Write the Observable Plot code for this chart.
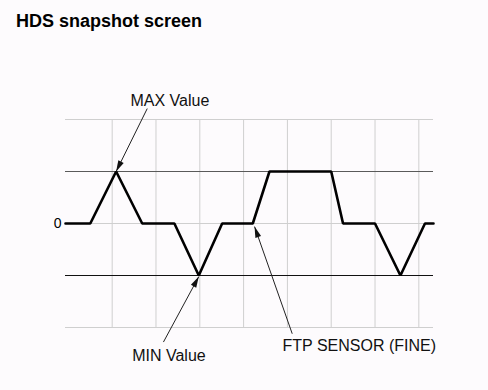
<!DOCTYPE html>
<html>
<head>
<meta charset="utf-8">
<script src="https://cdn.jsdelivr.net/npm/d3@7"></script>
<script src="https://cdn.jsdelivr.net/npm/@observablehq/plot@0.6"></script>
<style>
  html, body { margin: 0; padding: 0; background: #fdfbfd; width: 488px; height: 390px; overflow: hidden; }
  #title { font: bold 18px "Liberation Sans", Arial, sans-serif; height: 39px; line-height: 40px; padding-top: 1px; padding-left: 16px; color: #000; }
  svg { display: block; }
</style>
</head>
<body>
<div id="title">HDS snapshot screen</div>
<div id="chart"></div>
<script>
// signal trace (arbitrary time units, value in -1..1 levels)
const timeValues = [-0.066, 0.5, 1.09, 1.685, 2.42, 2.977, 3.51, 4.21, 4.59, 6.0, 6.27, 7.0, 7.58, 8.14, 8.335];
const signalValues = [0, 0, 1, 0, 0, -1, 0, 0, 1, 1, 0, 0, -1, 0, 0];

const xDomain = [-0.066, 8.335];
const yDomain = [-2, 2];
const gridX = [1, 2, 3, 4, 5, 6, 7, 8];
const gridY = [-2, 0, 2];
const maxLevel = [1];
const minLevel = [-1];
const yTickValues = [0];

// annotations
const labelText = ["MAX Value", "MIN Value", "FTP SENSOR (FINE)"];
const labelX = [1.418, 1.457, 4.888];
const labelY = [2.256, -2.635, -2.46];
const arrowTailX = [1.80, 2.17, 5.11];
const arrowTailY = [2.21, -2.28, -2.12];
const arrowTipX = [1.09, 2.977, 4.25];
const arrowTipY = [1.0, -1.02, -0.06];

const W = 488, H = 350;
const mL = 65, mR = 55, mT = 79, mB = 63;

const trace = timeValues.map((t, i) => ({t, v: signalValues[i]}));
const arrows = labelText.map((d, i) => ({x1: arrowTailX[i], y1: arrowTailY[i], x2: arrowTipX[i], y2: arrowTipY[i]}));
const labels = labelText.map((d, i) => ({text: d, x: labelX[i], y: labelY[i]}));

const sx = Plot.scale({x: {domain: xDomain, range: [mL, W - mR]}});
const sy = Plot.scale({y: {domain: yDomain, range: [H - mB, mT]}});
arrows.forEach(a => {
  const dx = sx.apply(a.x2) - sx.apply(a.x1);
  const dy = sy.apply(a.y2) - sy.apply(a.y1);
  a.angle = Math.atan2(dx, -dy) * 180 / Math.PI;
});

const plot = Plot.plot({
  width: W,
  height: H,
  marginLeft: mL,
  marginRight: mR,
  marginTop: mT,
  marginBottom: mB,
  style: {fontFamily: '"Liberation Sans", Arial, sans-serif', fontSize: "16px", background: "transparent", color: "#000"},
  x: {domain: xDomain, axis: null},
  y: {domain: yDomain, axis: null},
  marks: [
    Plot.ruleX(gridX, {y1: yDomain[0], y2: yDomain[1], stroke: "#cfcfcf", strokeWidth: 1}),
    Plot.ruleY(gridY, {stroke: "#cfcfcf", strokeWidth: 1}),
    Plot.ruleY(maxLevel, {stroke: "#5a5a5a", strokeWidth: 1}),
    Plot.ruleY(minLevel, {stroke: "#111", strokeWidth: 1}),
    Plot.axisY({ticks: yTickValues, tickSize: 0, tickPadding: 4, fontSize: 14, label: null, tickFormat: d => String(d)}),
    Plot.line(trace, {x: "t", y: "v", stroke: "#000", strokeWidth: 2.6, strokeLinejoin: "miter", curve: "linear"}),
    Plot.link(arrows, {x1: "x1", y1: "y1", x2: "x2", y2: "y2", stroke: "#222", strokeWidth: 1}),
    Plot.vector(arrows, {x: "x2", y: "y2", rotate: "angle", length: 11, r: 3, shape: "spike", anchor: "end", fill: "#111", stroke: "none"}),
    Plot.text(labels, {x: "x", y: "y", text: "text", textAnchor: "start", lineAnchor: "bottom", fill: "#111", fontSize: 16})
  ]
});
document.getElementById("chart").appendChild(plot);
</script>
</body>
</html>
